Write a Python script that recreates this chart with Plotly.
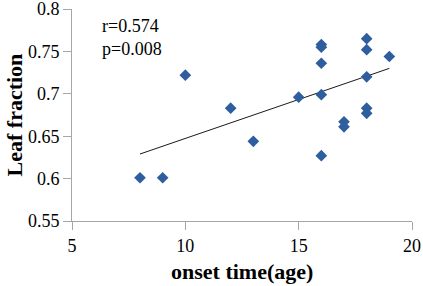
import numpy as np
import plotly.graph_objects as go

onset_time = [8, 9, 10, 12, 13, 15, 16, 16, 16, 16, 16, 17, 17, 18, 18, 18, 18, 18, 19]
leaf_fraction = [0.601, 0.601, 0.722, 0.683, 0.644, 0.696, 0.758, 0.755, 0.736, 0.699, 0.627,
                 0.667, 0.661, 0.765, 0.752, 0.720, 0.683, 0.677, 0.744]
trend_x = [8, 19]
trend_y = [0.629, 0.730]
x_ticks = [5, 10, 15, 20]
y_ticks = [0.55, 0.6, 0.65, 0.7, 0.75, 0.8]
y_tick_text = ["0.55", "0.6", "0.65", "0.7", "0.75", "0.8"]
annot_lines = ["r=0.574", "p=0.008"]

serif = "Liberation Serif, Times New Roman, serif"

fig = go.Figure()
fig.add_trace(go.Scatter(x=trend_x, y=trend_y, mode="lines",
                         line=dict(color="#1a1a1a", width=1), hoverinfo="skip"))
fig.add_trace(go.Scatter(x=onset_time, y=leaf_fraction, mode="markers",
                         marker=dict(symbol="diamond", size=9, color="#2F5E9E")))

axis_common = dict(showgrid=False, zeroline=False, showline=True, linecolor="#a6a6a6", linewidth=1,
                   ticks="outside", ticklen=8, tickcolor="#a6a6a6", automargin=False,
                   ticklabeloverflow="allow",
                   tickfont=dict(size=18, family=serif, color="black"))

fig.update_layout(
    width=423, height=286,
    margin=dict(l=72, r=11, t=9, b=65),
    plot_bgcolor="white", paper_bgcolor="white",
    showlegend=False,
    font=dict(family=serif, size=18, color="black"),
    xaxis=dict(range=[5, 20], tickvals=x_ticks, ticktext=[str(v) for v in x_ticks], **axis_common),
    yaxis=dict(range=[0.55, 0.8], tickvals=y_ticks, ticktext=y_tick_text, **axis_common),
    annotations=[
        dict(x=0.082, y=0.92, xref="paper", yref="paper", xanchor="left", yanchor="middle",
             text=annot_lines[0], showarrow=False, font=dict(size=18, family=serif)),
        dict(x=0.082, y=0.811, xref="paper", yref="paper", xanchor="left", yanchor="middle",
             text=annot_lines[1], showarrow=False, font=dict(size=18, family=serif)),
        dict(x=0.5, y=-0.24, xref="paper", yref="paper", xanchor="center", yanchor="middle",
             text="<b>onset time(age)</b>", showarrow=False, font=dict(size=22, family=serif)),
        dict(x=-0.168, y=0.502, xref="paper", yref="paper", xanchor="center", yanchor="middle",
             text="<b>Leaf fraction</b>", textangle=-90, showarrow=False, font=dict(size=22, family=serif)),
    ],
)

fig.write_html("out.html", config={"displayModeBar": False},
               post_script="document.body.style.margin='0';document.body.style.overflow='hidden';")
